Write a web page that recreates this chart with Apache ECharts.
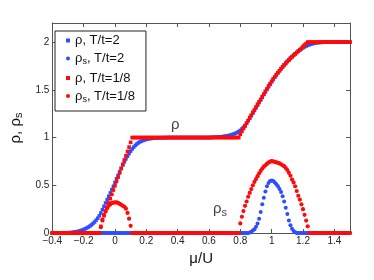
<!DOCTYPE html>
<html><head><meta charset="utf-8">
<script src="https://cdn.jsdelivr.net/npm/echarts@6/dist/echarts.min.js"></script>
<style>html,body{margin:0;padding:0;background:#fff}#c{width:374px;height:280px}</style>
</head><body><div id="c"></div>
<script>
// chemical potential grid (mu/U)
const mu = [
-0.40,-0.39,-0.38,-0.37,-0.36,-0.35,-0.34,-0.33,-0.32,-0.31,
-0.30,-0.29,-0.28,-0.27,-0.26,-0.25,-0.24,-0.23,-0.22,-0.21,
-0.20,-0.19,-0.18,-0.17,-0.16,-0.15,-0.14,-0.13,-0.12,-0.11,
-0.10,-0.09,-0.08,-0.07,-0.06,-0.05,-0.04,-0.03,-0.02,-0.01,
0.00,0.01,0.02,0.03,0.04,0.05,0.06,0.07,0.08,0.09,
0.10,0.11,0.12,0.13,0.14,0.15,0.16,0.17,0.18,0.19,
0.20,0.21,0.22,0.23,0.24,0.25,0.26,0.27,0.28,0.29,
0.30,0.31,0.32,0.33,0.34,0.35,0.36,0.37,0.38,0.39,
0.40,0.41,0.42,0.43,0.44,0.45,0.46,0.47,0.48,0.49,
0.50,0.51,0.52,0.53,0.54,0.55,0.56,0.57,0.58,0.59,
0.60,0.61,0.62,0.63,0.64,0.65,0.66,0.67,0.68,0.69,
0.70,0.71,0.72,0.73,0.74,0.75,0.76,0.77,0.78,0.79,
0.80,0.81,0.82,0.83,0.84,0.85,0.86,0.87,0.88,0.89,
0.90,0.91,0.92,0.93,0.94,0.95,0.96,0.97,0.98,0.99,
1.00,1.01,1.02,1.03,1.04,1.05,1.06,1.07,1.08,1.09,
1.10,1.11,1.12,1.13,1.14,1.15,1.16,1.17,1.18,1.19,
1.20,1.21,1.22,1.23,1.24,1.25,1.26,1.27,1.28,1.29,
1.30,1.31,1.32,1.33,1.34,1.35,1.36,1.37,1.38,1.39,
1.40,1.41,1.42,1.43,1.44,1.45,1.46,1.47,1.48,1.49,
1.50];

// rho, T/t=2
const rhoHighT = [
0,0,0,0,0,0.001,0.001,0.001,0.002,0.002,
0.003,0.004,0.005,0.007,0.009,0.012,0.015,0.019,0.024,0.030,
0.037,0.044,0.052,0.062,0.073,0.085,0.10,0.115,0.135,0.155,
0.18,0.21,0.245,0.28,0.315,0.35,0.385,0.42,0.455,0.49,
0.53,0.568,0.605,0.642,0.678,0.712,0.745,0.776,0.805,0.832,
0.857,0.88,0.90,0.918,0.933,0.945,0.955,0.963,0.97,0.976,
0.981,0.985,0.988,0.99,0.992,0.994,0.995,0.996,0.997,0.998,
0.998,0.999,0.999,0.999,1,1,1,1,1,1,
1,1,1,1,1,1,1,1,1,1,
1,1,1,1,1,1,1,1,1,1,
1,1.001,1.002,1.003,1.004,1.005,1.006,1.008,1.009,1.011,
1.013,1.016,1.019,1.023,1.027,1.032,1.038,1.045,1.053,1.063,
1.075,1.09,1.108,1.128,1.15,1.175,1.2,1.228,1.255,1.283,
1.31,1.338,1.366,1.394,1.422,1.45,1.477,1.504,1.531,1.557,
1.583,1.608,1.632,1.655,1.678,1.70,1.722,1.743,1.763,1.782,
1.80,1.817,1.833,1.849,1.864,1.878,1.892,1.905,1.917,1.929,
1.94,1.95,1.958,1.966,1.972,1.978,1.983,1.987,1.99,1.993,
1.995,1.996,1.997,1.998,1.999,1.999,2,2,2,2,
2,2,2,2,2,2,2,2,2,2,
2];

// rho_s, T/t=2
const rhoSHighT = [
0,0,0,0,0,0,0,0,0,0,
0,0,0,0,0,0,0,0,0,0,
0,0,0,0,0,0,0,0,0,0,
0,0,0,0,0,0,0,0,0,0,
0,0,0,0,0,0,0,0,0,0,
0,0,0,0,0,0,0,0,0,0,
0,0,0,0,0,0,0,0,0,0,
0,0,0,0,0,0,0,0,0,0,
0,0,0,0,0,0,0,0,0,0,
0,0,0,0,0,0,0,0,0,0,
0,0,0,0,0,0,0,0,0,0,
0,0,0,0,0,0,0,0,0,0,
0,0,0,0,0,0,0.005,0.012,0.025,0.04,
0.065,0.10,0.15,0.22,0.30,0.37,0.435,0.49,0.525,0.545,
0.55,0.545,0.53,0.51,0.49,0.46,0.43,0.385,0.33,0.265,
0.20,0.13,0.08,0.045,0.02,0.008,0,0,0,0,
0,0,0,0,0,0,0,0,0,0,
0,0,0,0,0,0,0,0,0,0,
0,0,0,0,0,0,0,0,0,0,
0];

// rho, T/t=1/8
const rhoLowT = [
0,0,0,0,0,0,0,0,0,0,
0,0,0,0,0,0,0,0,0,0,
0,0,0,0,0,0,0,0,0,0,
0,0.07,0.13,0.18,0.225,0.27,0.315,0.36,0.405,0.45,
0.495,0.54,0.585,0.63,0.675,0.72,0.765,0.81,0.855,0.90,
0.95,1,1,1,1,1,1,1,1,1,
1,1,1,1,1,1,1,1,1,1,
1,1,1,1,1,1,1,1,1,1,
1,1,1,1,1,1,1,1,1,1,
1,1,1,1,1,1,1,1,1,1,
1,1,1,1,1,1,1,1,1,1,
1,1,1,1,1,1,1,1,1,1,
1.035,1.065,1.095,1.12,1.15,1.18,1.21,1.235,1.265,1.29,
1.32,1.35,1.375,1.40,1.43,1.455,1.485,1.51,1.54,1.565,
1.59,1.615,1.635,1.66,1.68,1.70,1.72,1.74,1.76,1.775,
1.795,1.81,1.83,1.845,1.86,1.875,1.89,1.905,1.92,1.935,
1.955,1.97,1.985,2,2,2,2,2,2,2,
2,2,2,2,2,2,2,2,2,2,
2,2,2,2,2,2,2,2,2,2,
2];

// rho_s, T/t=1/8
const rhoSLowT = [
0,0,0,0,0,0,0,0,0,0,
0,0,0,0,0,0,0,0,0,0,
0,0,0,0,0,0,0,0,0,0,
0,0.06,0.14,0.19,0.23,0.26,0.285,0.30,0.313,0.318,
0.32,0.32,0.315,0.305,0.295,0.285,0.275,0.255,0.21,0.15,
0.075,0,0,0,0,0,0,0,0,0,
0,0,0,0,0,0,0,0,0,0,
0,0,0,0,0,0,0,0,0,0,
0,0,0,0,0,0,0,0,0,0,
0,0,0,0,0,0,0,0,0,0,
0,0,0,0,0,0,0,0,0,0,
0,0,0,0,0,0,0,0,0,0,
0.10,0.17,0.23,0.285,0.33,0.38,0.42,0.46,0.50,0.535,
0.565,0.595,0.625,0.65,0.675,0.695,0.71,0.725,0.738,0.747,
0.752,0.75,0.745,0.74,0.735,0.73,0.72,0.71,0.70,0.68,
0.66,0.63,0.60,0.56,0.53,0.49,0.44,0.39,0.35,0.30,
0.25,0.19,0.13,0.07,0,0,0,0,0,0,
0,0,0,0,0,0,0,0,0,0,
0,0,0,0,0,0,0,0,0,0,
0];

const seriesNames = ['ρ, T/t=2', 'ρs, T/t=2', 'ρ, T/t=1/8', 'ρs, T/t=1/8'];
const legendLabels = ['{a|ρ, T/t=2}', '{a|ρ}{s|s}{a|, T/t=2}', '{a|ρ, T/t=1/8}', '{a|ρ}{s|s}{a|, T/t=1/8}'];
const xTickValues = [-0.4, -0.2, 0, 0.2, 0.4, 0.6, 0.8, 1, 1.2, 1.4];
const xTickLabels = ['\u22120.4', '\u22120.2', '0', '0.2', '0.4', '0.6', '0.8', '1', '1.2', '1.4'];
const yTickValues = [0, 0.5, 1, 1.5, 2];
const yTickLabels = ['0', '0.5', '1', '1.5', '2'];
const annotTexts = ['{a|ρ}', '{a|ρ}{s|s}'];
const annotX = [0.385, 0.67];
const annotY = [1.13, 0.25];

const FONT = 'Liberation Sans, Arial, Helvetica, sans-serif';
const BLUE = '#2f4cff';
const RED = '#ff0a0a';
const AX = '#555';

function pairs(ys) { return mu.map((m, i) => [m, ys[i]]); }
function lookup(vals, labs) {
  return function (v) {
    for (let i = 0; i < vals.length; i++) if (Math.abs(v - vals[i]) < 1e-6) return labs[i];
    return '';
  };
}

const chart = echarts.init(document.getElementById('c'), null, { renderer: 'canvas' });

const axisCommon = {
  axisLine: { show: true, onZero: false, lineStyle: { color: AX, width: 1 } },
  axisTick: { show: true, inside: true, length: 4, lineStyle: { color: AX } },
  splitLine: { show: false }
};

const option = {
  animation: false,
  backgroundColor: '#fff',
  textStyle: { fontFamily: FONT },
  grid: { left: 45, right: 24, top: 23, bottom: 47, containLabel: false },
  xAxis: [
    Object.assign({
      type: 'value', min: -0.4, max: 1.5, interval: 0.2, position: 'bottom',
      axisLabel: { fontSize: 10, color: '#222', margin: 3, fontFamily: FONT, formatter: lookup(xTickValues, xTickLabels) },
      name: 'μ/U', nameLocation: 'middle', nameGap: 16,
      nameTextStyle: { fontSize: 15, color: '#111', fontFamily: FONT }
    }, axisCommon),
    Object.assign({
      type: 'value', min: -0.4, max: 1.5, interval: 0.2, position: 'top',
      axisLabel: { show: false }
    }, axisCommon)
  ],
  yAxis: [
    Object.assign({
      type: 'value', min: 0, max: 2.2, interval: 0.5, position: 'left',
      axisLabel: { fontSize: 10, color: '#222', margin: 3, fontFamily: FONT, formatter: lookup(yTickValues, yTickLabels) },
      name: '{a|ρ, ρ}{s|s}', nameLocation: 'middle', nameGap: 22,
      nameTextStyle: {
        color: '#111', fontFamily: FONT,
        rich: {
          a: { fontSize: 15, lineHeight: 18, fontFamily: FONT, color: '#111' },
          s: { fontSize: 11, lineHeight: 10, verticalAlign: 'bottom', fontFamily: FONT, color: '#111' }
        }
      }
    }, axisCommon),
    Object.assign({
      type: 'value', min: 0, max: 2.2, interval: 0.5, position: 'right',
      axisLabel: { show: false }
    }, axisCommon)
  ],
  legend: {
    orient: 'vertical', left: 55, top: 31,
    padding: [3, 11, 7, 11],
    itemWidth: 4, itemHeight: 4, itemGap: 5,
    borderColor: '#222', borderWidth: 1, backgroundColor: '#fff',
    data: seriesNames,
    formatter: function (name) { return legendLabels[seriesNames.indexOf(name)]; },
    textStyle: {
      fontFamily: FONT, color: '#111',
      rich: {
        a: { fontSize: 13, lineHeight: 16, fontFamily: FONT, color: '#111' },
        s: { fontSize: 9, lineHeight: 9, verticalAlign: 'bottom', fontFamily: FONT, color: '#111' }
      }
    }
  },
  series: [
    { name: seriesNames[0], type: 'scatter', symbol: 'rect', symbolSize: 3.5, itemStyle: { color: BLUE, opacity: 1 }, data: pairs(rhoHighT), z: 2 },
    { name: seriesNames[1], type: 'scatter', symbol: 'circle', symbolSize: 4, itemStyle: { color: BLUE, opacity: 1 }, data: pairs(rhoSHighT), z: 3 },
    { name: seriesNames[2], type: 'scatter', symbol: 'rect', symbolSize: 3.6, itemStyle: { color: RED, opacity: 1 }, data: pairs(rhoLowT), z: 4 },
    { name: seriesNames[3], type: 'scatter', symbol: 'circle', symbolSize: 4.2, itemStyle: { color: RED, opacity: 1 }, data: pairs(rhoSLowT), z: 5 },
    {
      name: 'annotations', type: 'scatter', silent: true, symbolSize: 1,
      itemStyle: { color: 'rgba(0,0,0,0)' },
      data: annotX.map((x, i) => ({ value: [x, annotY[i]], label: { formatter: annotTexts[i] } })),
      label: {
        show: true, position: 'inside',
        rich: {
          a: { fontSize: 15, lineHeight: 18, fontFamily: FONT, color: '#111' },
          s: { fontSize: 11, lineHeight: 10, verticalAlign: 'bottom', fontFamily: FONT, color: '#111' }
        }
      },
      z: 6
    }
  ]
};
chart.setOption(option);
</script>
</body></html>
